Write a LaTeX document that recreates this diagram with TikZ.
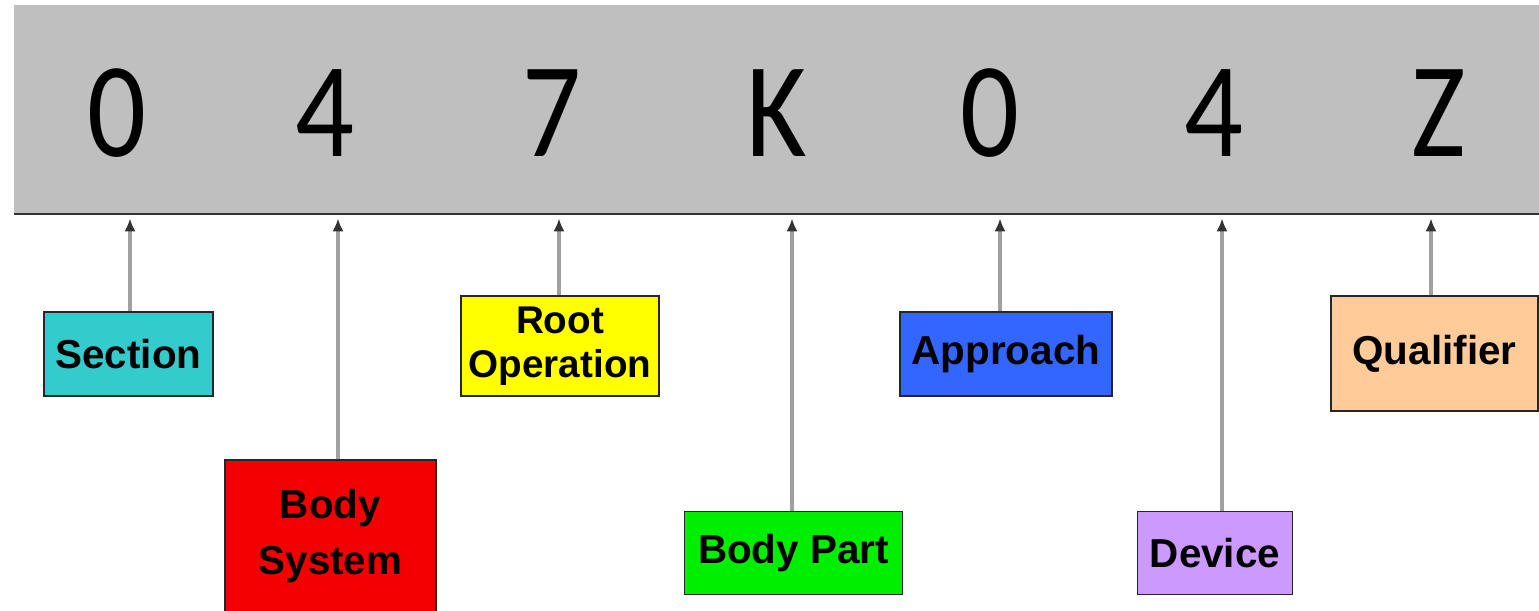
\documentclass[tikz,border=0pt]{standalone}
\usepackage{fontspec}
\setmainfont{Liberation Sans}
\newfontfamily\codefont[FakeStretch=0.86]{Carlito}
\usetikzlibrary{arrows.meta}

\definecolor{barGray}{RGB}{191,191,191}
\definecolor{secCyan}{RGB}{51,204,204}
\definecolor{sysRed}{RGB}{245,0,0}
\definecolor{opYellow}{RGB}{255,255,0}
\definecolor{partGreen}{RGB}{0,238,0}
\definecolor{appBlue}{RGB}{51,102,255}
\definecolor{devLilac}{RGB}{204,153,255}
\definecolor{qualPeach}{RGB}{255,204,153}
\definecolor{lineGray}{RGB}{160,160,160}

\begin{document}
\begin{tikzpicture}[
    x=0.02cm, y=-0.02cm,
    digit/.style={font=\codefont\fontsize{77}{92}\selectfont, inner sep=0pt},
    field/.style={rectangle, draw=black!85, line width=0.8pt, align=center,
        inner sep=0pt, font=\bfseries\fontsize{23}{26}\selectfont},
    arrow/.style={-{Latex[length=0.26cm, width=0.22cm, color=black!80]}, draw=lineGray,
        line width=2pt, shorten >=0.08cm}
]
\useasboundingbox (0,0) rectangle (1539,611);

% Code bar with the seven characters
\node[fill=barGray, minimum width=30.8cm, minimum height=4.18cm, inner sep=0pt] (bar) at (784,109.5) {};
\draw[black!80, line width=1pt] (bar.south west) -- (bar.south east);

\node[digit] (c1) at (117,113) {0};
\node[digit] (c2) at (325,113) {4};
\node[digit] (c3) at (552,113) {7};
\node[digit] (c4) at (777,113) {K};
\node[digit] (c5) at (990,113) {0};
\node[digit] (c6) at (1214,113) {4};
\node[digit] (c7) at (1439,113) {Z};

% Field boxes
\node[field, fill=secCyan, minimum width=3.38cm, minimum height=1.68cm] (sec) at (128.5,354) {Section};
\node[field, fill=sysRed, minimum width=4.22cm, minimum height=3.04cm] (bsys) at (330.5,536) {Body\\[6pt]System};
\node[field, fill=opYellow, minimum width=3.96cm, minimum height=2cm, font=\bfseries\fontsize{22}{25}\selectfont] (rop) at (560,346) {Root\\Operation};
\node[field, fill=partGreen, minimum width=4.36cm, minimum height=1.66cm] (bpart) at (793.5,553) {Body Part};
\node[field, fill=appBlue, minimum width=4.24cm, minimum height=1.68cm] (appr) at (1006,354) {Approach};
\node[field, fill=devLilac, minimum width=3.1cm, minimum height=1.66cm] (dev) at (1215,553) {Device};
\node[field, fill=qualPeach, minimum width=4.14cm, minimum height=2.3cm] (qual) at (1434.5,353.5) {Qualifier};

% Arrows up to the bar
\draw[arrow] (sec.north -| 130,0) -- (bar.south -| 130,0);
\draw[arrow] (bsys.north -| 338,0) -- (bar.south -| 338,0);
\draw[arrow] (rop.north -| 559,0) -- (bar.south -| 559,0);
\draw[arrow] (bpart.north -| 792,0) -- (bar.south -| 792,0);
\draw[arrow] (appr.north -| 1000,0) -- (bar.south -| 1000,0);
\draw[arrow] (dev.north -| 1222,0) -- (bar.south -| 1222,0);
\draw[arrow] (qual.north -| 1431,0) -- (bar.south -| 1431,0);

\end{tikzpicture}
\end{document}
